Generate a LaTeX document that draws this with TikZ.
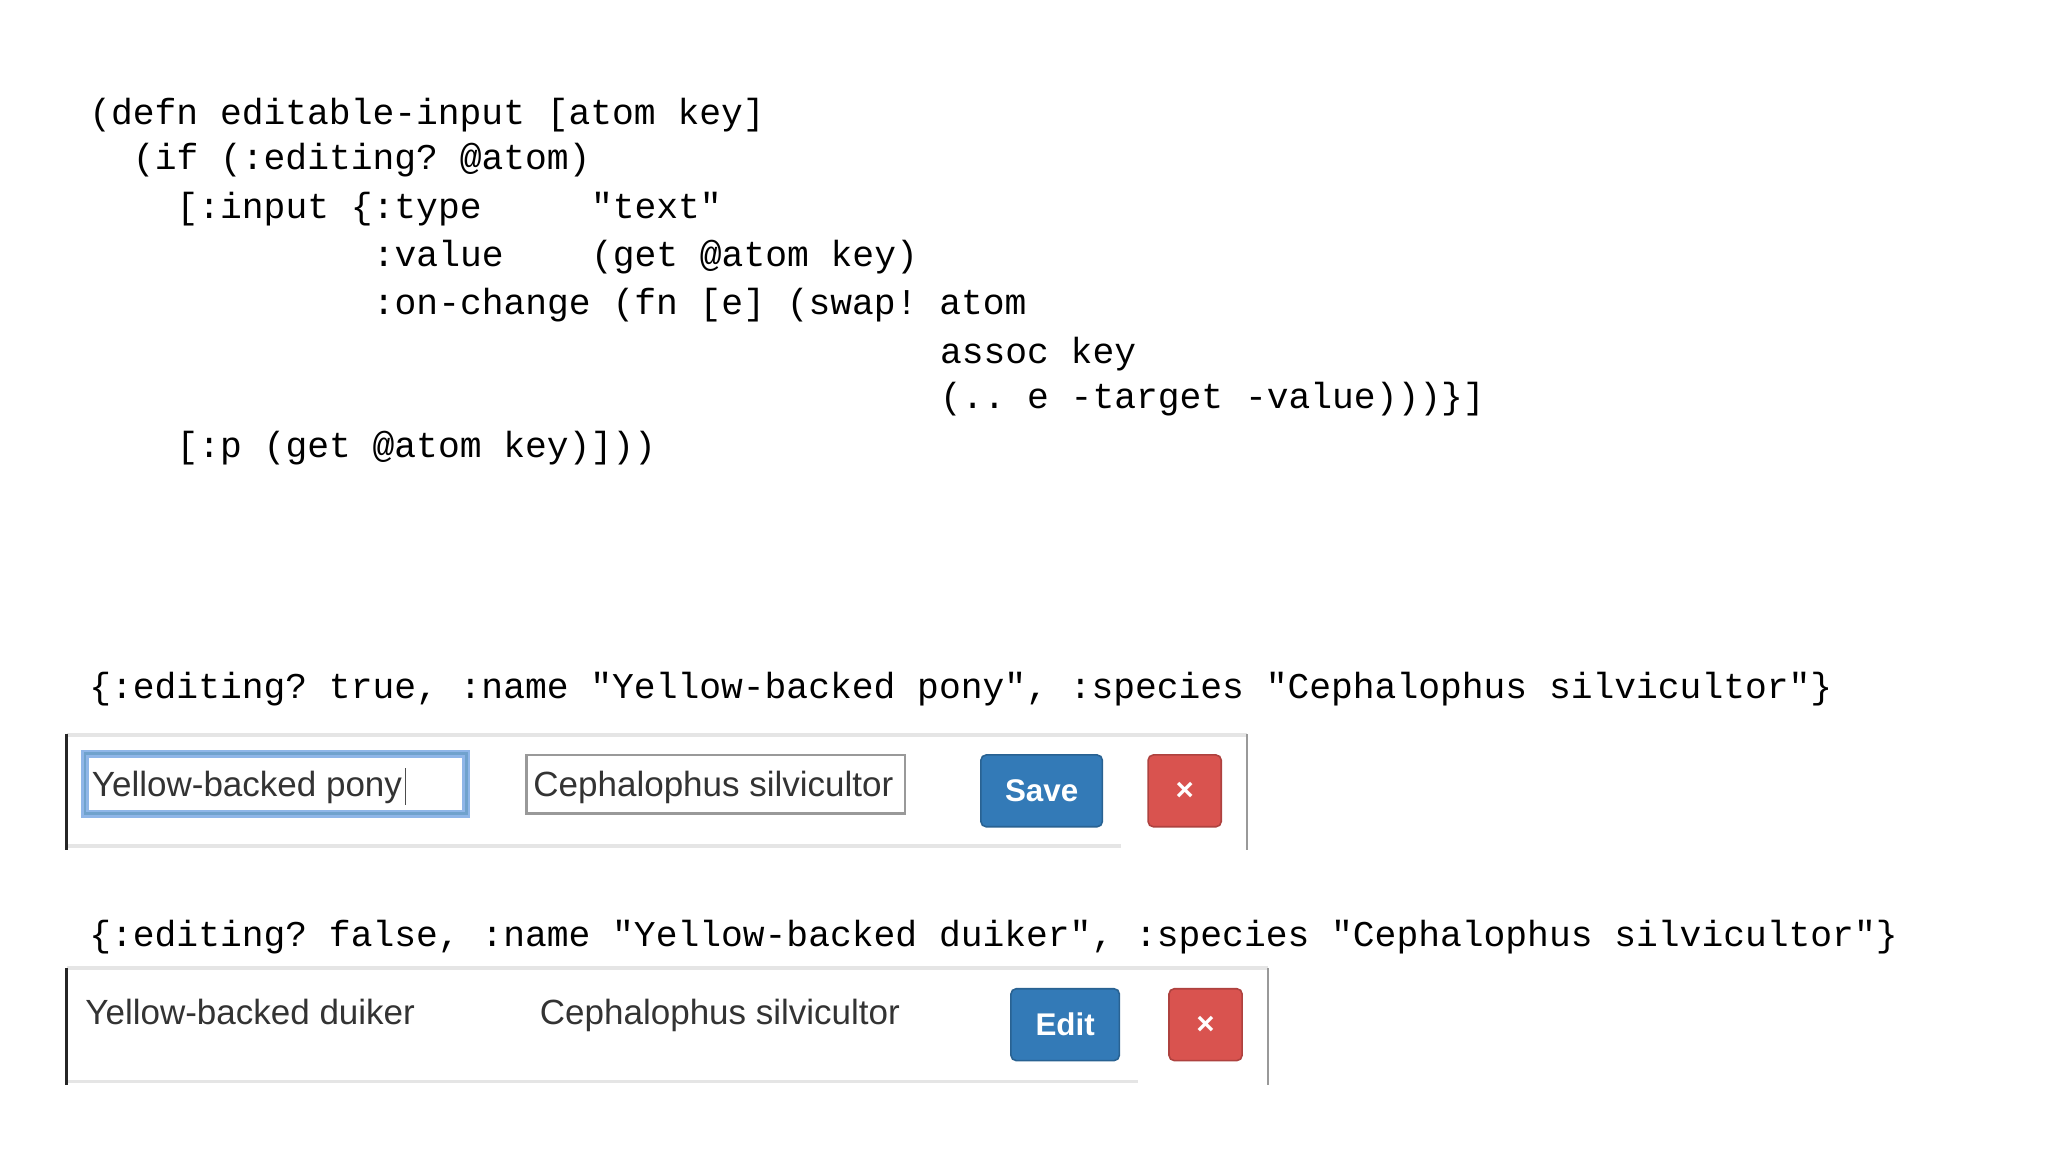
\documentclass[tikz,border=0pt]{standalone}
\usepackage{fontspec}
\setmainfont{Liberation Sans}
\setmonofont{Liberation Mono}
\begin{document}
\begin{tikzpicture}[x=0.5pt,y=-0.5pt,
  code/.style={anchor=base west,inner sep=0pt,font=\fontsize{13.9pt}{16pt}\ttfamily},
  ui/.style={anchor=base west,inner sep=0pt,font=\fontsize{13.4pt}{15pt}\selectfont,text=black!80},
  frame/.style={line width=1pt,black!85},
  light/.style={line width=1.5pt,black!10},
  btn/.style={rounded corners=2pt,draw=#1!80!black,fill=#1,line width=0.6pt},
  btxt/.style={text=white,font=\fontsize{12pt}{14pt}\bfseries\selectfont,inner sep=0pt}]
\definecolor{bsblue}{HTML}{337AB7}
\definecolor{bsred}{HTML}{D9534F}
\definecolor{glow}{HTML}{8FB6E8}
\useasboundingbox (0,0) rectangle (1568,882);
\def\cw{16.7}
\foreach \t/\c/\y [count=\i] in {
 {(defn editable-input [atom key]}/0/95,
 {(if (:editing? @atom)}/2/130,
 {[:input \{:type}/4/167,
 {"text"}/23/167,
 {:value}/13/204,
 {(get @atom key)}/23/204,
 {:on-change (fn [e] (swap! atom}/13/241,
 {assoc key}/39/278,
 {(.. e -target -value)))\}]}/39/313,
 {[:p (get @atom key)]))}/4/350}
  \node[code] (c\i) at ({68+\c*\cw},\y) {\t};
\node[code] (d1) at (68,535) {\{:editing? true, :name "Yellow-backed pony", :species "Cephalophus silvicultor"\}};
\node[code] (d2) at (68,725) {\{:editing? false, :name "Yellow-backed duiker", :species "Cephalophus silvicultor"\}};
% widget 1
\draw[light] (51,563) -- (955,563);
\draw[light] (51,648) -- (858,648);
\draw[frame] (51,562) -- (51,651);
\draw[line width=0.8pt,black!40] (955,562) -- (955,651);
\draw[glow,line width=3pt] (65,577) rectangle (357,623);
\draw[bsblue!70,line width=1pt] (65,577) rectangle (357,623);
\node[ui] (n1) at (70,610) {Yellow-backed pony};
\draw[black!70] (n1.base east)++(2,-22) -- ++(0,28);
\draw[black!40,line width=1pt] (403,578) rectangle (693,623);
\node[ui] (s1) at (408,610) {Cephalophus silvicultor};
\draw[btn=bsblue] (751,578) rectangle (844,633);
\node[btxt] (save) at (797.5,605.5) {Save};
\draw[btn=bsred] (879,578) rectangle (935,633);
\node[btxt] (x1) at (907,606) {×};
% widget 2
\draw[light] (51,741) -- (971,741);
\draw[light] (51,828) -- (871,828);
\draw[frame] (51,741) -- (51,831);
\draw[line width=0.8pt,black!40] (971,741) -- (971,831);
\node[ui] (n2) at (65,784) {Yellow-backed duiker};
\node[ui] (s2) at (413,784) {Cephalophus silvicultor};
\draw[btn=bsblue] (774,757) rectangle (857,812);
\node[btxt] (edit) at (815.5,784.5) {Edit};
\draw[btn=bsred] (895,757) rectangle (951,812);
\node[btxt] (x2) at (923,785) {×};
\end{tikzpicture}
\end{document}
